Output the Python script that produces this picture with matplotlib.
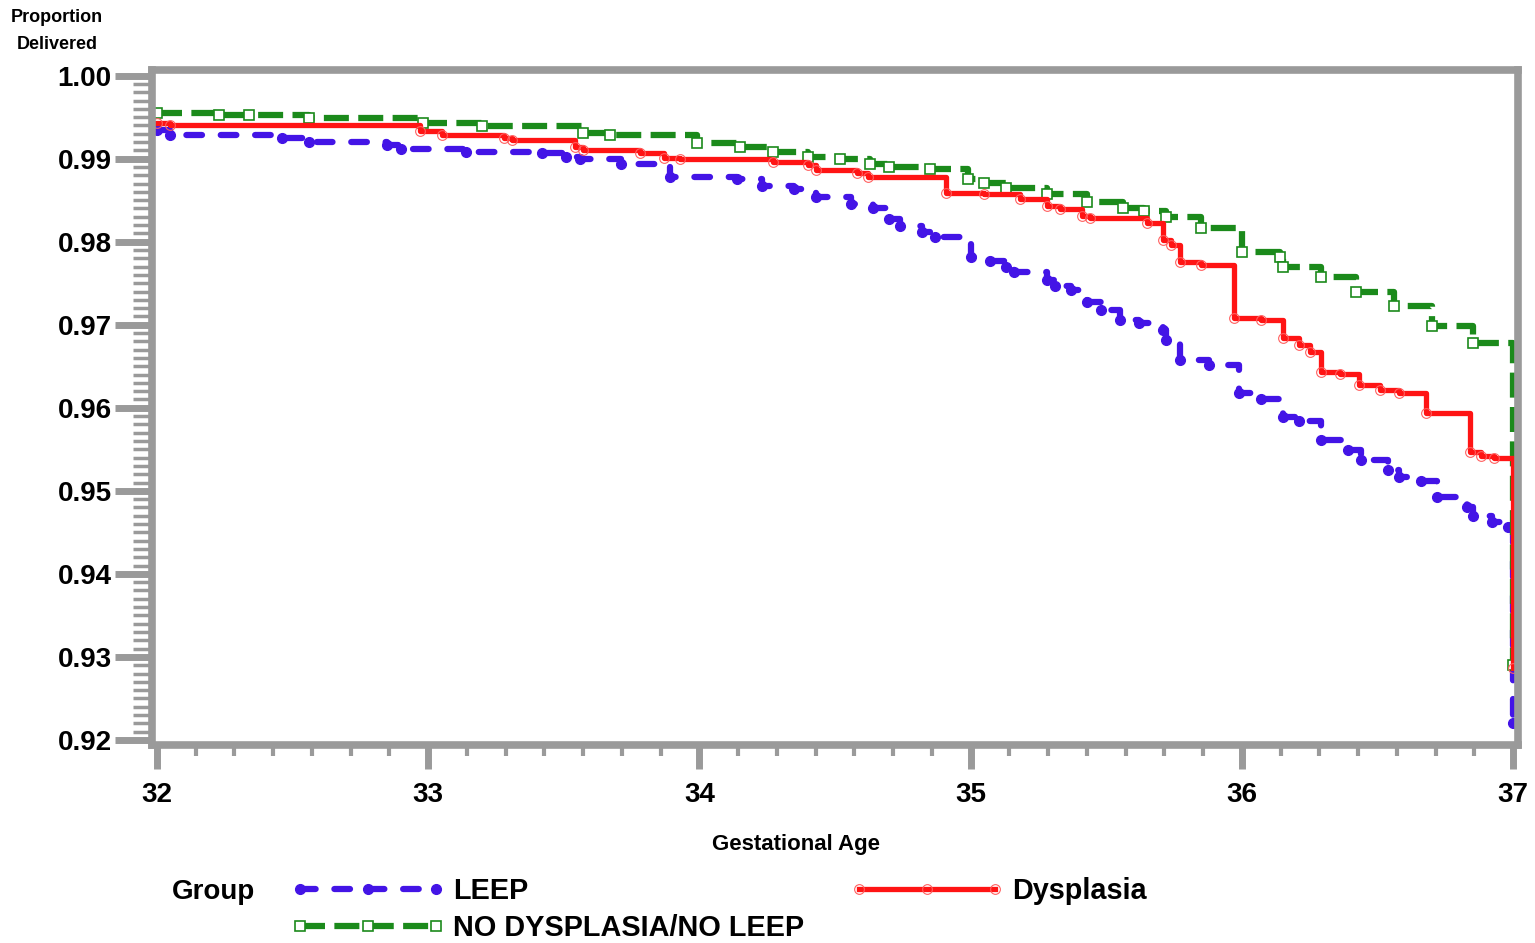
import numpy as np
import matplotlib
matplotlib.use("Agg")
import matplotlib.pyplot as plt

plt.rcParams["font.family"] = ["Liberation Sans", "DejaVu Sans"]

# Kaplan-Meier style step curves (weeks, proportion still not delivered)
leep_t = [32.00, 32.05, 32.46, 32.56, 32.85, 32.90, 33.14, 33.42, 33.51, 33.56,
          33.71, 33.89, 34.14, 34.23, 34.35, 34.43, 34.56, 34.64, 34.70, 34.74,
          34.82, 34.87, 35.00, 35.07, 35.13, 35.16, 35.28, 35.31, 35.37, 35.43,
          35.48, 35.55, 35.62, 35.71, 35.72, 35.77, 35.88, 35.99, 36.07, 36.15,
          36.21, 36.29, 36.39, 36.44, 36.54, 36.58, 36.66, 36.72, 36.83, 36.85,
          36.92, 36.98, 37.00]
leep_s = [0.9935, 0.9929, 0.9925, 0.9920, 0.9917, 0.9912, 0.9908, 0.9907, 0.9902, 0.9899,
          0.9893, 0.9878, 0.9875, 0.9867, 0.9863, 0.9854, 0.9845, 0.9840, 0.9827, 0.9819,
          0.9812, 0.9806, 0.9782, 0.9777, 0.9770, 0.9763, 0.9754, 0.9747, 0.9742, 0.9727,
          0.9718, 0.9706, 0.9702, 0.9694, 0.9682, 0.9658, 0.9651, 0.9618, 0.9610, 0.9589,
          0.9584, 0.9561, 0.9549, 0.9537, 0.9525, 0.9517, 0.9512, 0.9492, 0.9481, 0.9470,
          0.9463, 0.9457, 0.9220]

dysp_t = [32.00, 32.05, 32.97, 33.05, 33.28, 33.31, 33.54, 33.57, 33.78, 33.87,
          33.93, 34.27, 34.40, 34.43, 34.58, 34.62, 34.91, 35.05, 35.18, 35.28,
          35.33, 35.41, 35.44, 35.65, 35.71, 35.74, 35.77, 35.85, 35.97, 36.07,
          36.15, 36.21, 36.25, 36.29, 36.36, 36.43, 36.51, 36.58, 36.68, 36.84,
          36.88, 36.93, 37.00]
dysp_s = [0.9943, 0.9941, 0.9933, 0.9928, 0.9925, 0.9923, 0.9914, 0.9911, 0.9907, 0.9901,
          0.9899, 0.9896, 0.9892, 0.9886, 0.9883, 0.9878, 0.9859, 0.9857, 0.9851, 0.9843,
          0.9839, 0.9831, 0.9828, 0.9823, 0.9802, 0.9796, 0.9776, 0.9772, 0.9708, 0.9706,
          0.9684, 0.9676, 0.9667, 0.9643, 0.9641, 0.9627, 0.9622, 0.9618, 0.9594, 0.9547,
          0.9542, 0.9539, 0.9287]

none_t = [32.00, 32.23, 32.34, 32.56, 32.98, 33.20, 33.57, 33.67, 33.99, 34.15,
          34.27, 34.40, 34.52, 34.63, 34.70, 34.85, 34.99, 35.05, 35.13, 35.28,
          35.43, 35.56, 35.64, 35.72, 35.85, 36.00, 36.14, 36.15, 36.29, 36.42,
          36.56, 36.70, 36.85, 37.00]
none_s = [0.9955, 0.9953, 0.9952, 0.9949, 0.9943, 0.9939, 0.9931, 0.9929, 0.9919, 0.9914,
          0.9908, 0.9902, 0.9899, 0.9893, 0.9890, 0.9887, 0.9875, 0.9871, 0.9865, 0.9858,
          0.9848, 0.9841, 0.9837, 0.9830, 0.9817, 0.9787, 0.9781, 0.9770, 0.9757, 0.9740,
          0.9722, 0.9698, 0.9678, 0.9290]

x_ticks = [32, 33, 34, 35, 36, 37]
y_ticks = [0.92, 0.93, 0.94, 0.95, 0.96, 0.97, 0.98, 0.99, 1.00]

blue = "#4314E6"
red = "#FF1414"
green = "#1B8A1B"
gray = "#9A9A9A"

fig = plt.figure(figsize=(15.35, 9.43), dpi=100)
ax = fig.add_axes([0.099, 0.210, 0.890, 0.716])

l1, = ax.plot(leep_t, leep_s, drawstyle="steps-post", color=blue, lw=4.5,
              ls=(0, (2.5, 3)), marker="o", ms=7, mfc=blue, mec=blue,
              dash_capstyle="round", label="LEEP")
l3, = ax.plot(none_t, none_s, drawstyle="steps-post", color=green, lw=4.5,
              ls=(0, (4, 1.5)), marker="s", ms=7, mfc="white", mec=green,
              mew=1.2, label="NO DYSPLASIA/NO LEEP")
l2, = ax.plot(dysp_t, dysp_s, drawstyle="steps-post", color=red, lw=3.8,
              marker="o", ms=7, mfc="none", mec="#FF6060", mew=0.8,
              label="Dysplasia")

ax.set_xlim(31.982, 37.018)
ax.set_ylim(0.9194, 1.0007)
ax.set_xticks(x_ticks)
ax.set_xticklabels([str(v) for v in x_ticks])
ax.set_xticks(np.arange(32, 37.001, 1 / 7), minor=True)
ax.set_yticks(y_ticks)
ax.set_yticklabels([f"{v:.2f}" for v in y_ticks])
ax.set_yticks(np.arange(0.920, 1.0001, 0.001), minor=True)

for s in ax.spines.values():
    s.set_color(gray)
    s.set_linewidth(5.5)

ax.tick_params(axis="y", which="major", length=27, width=5, color=gray,
               labelsize=20, pad=2)
ax.tick_params(axis="y", which="minor", length=14, width=2.5, color=gray)
ax.tick_params(axis="x", which="major", length=17, width=5, color=gray,
               labelsize=20, pad=10)
ax.tick_params(axis="x", which="minor", length=8, width=3, color=gray)
for lab in ax.get_xticklabels() + ax.get_yticklabels():
    lab.set_fontweight("bold")

fig.text(0.037, 0.990, "Proportion\nDelivered", ha="center", va="top",
         fontsize=13, fontweight="bold", linespacing=1.7)
fig.text(0.5186, 0.104, "Gestational Age", ha="center", va="center",
         fontsize=16, fontweight="bold")
fig.text(0.112, 0.054, "Group", ha="left", va="center",
         fontsize=20, fontweight="bold")

fig.legend(handles=[l1, l3, l2], loc="upper left",
           bbox_to_anchor=(0.190, 0.070), ncol=2, frameon=False,
           numpoints=3, handlelength=5.3, handletextpad=0.3,
           columnspacing=1.6, labelspacing=0.3, borderpad=0,
           borderaxespad=0, prop={"size": 20.8, "weight": "bold"})

fig.savefig("out.png", dpi=100)
